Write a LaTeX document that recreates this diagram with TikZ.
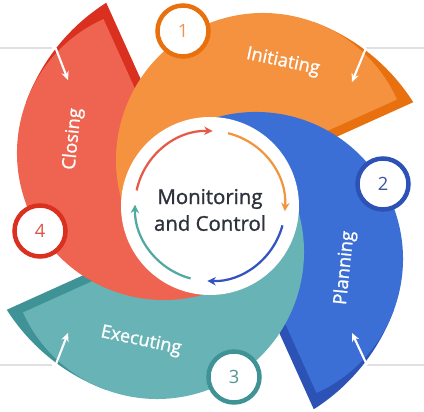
\documentclass[tikz,border=0pt]{standalone}
\usepackage{fontspec}
\setmainfont{Open Sans}
\newfontfamily\medfont{Open Sans}[FakeBold=1.2]
\usetikzlibrary{arrows.meta}

\definecolor{orangeL}{RGB}{244,146,63}
\definecolor{orangeD}{RGB}{232,112,14}
\definecolor{orangeT}{RGB}{238,150,80}
\definecolor{blueL}{RGB}{59,111,214}
\definecolor{blueD}{RGB}{44,82,181}
\definecolor{blueT}{RGB}{58,85,168}
\definecolor{tealL}{RGB}{103,179,181}
\definecolor{tealD}{RGB}{63,147,150}
\definecolor{tealT}{RGB}{80,150,146}
\definecolor{redL}{RGB}{238,100,80}
\definecolor{redD}{RGB}{217,48,31}
\definecolor{redT}{RGB}{217,84,74}
\definecolor{redA}{RGB}{230,90,72}
\definecolor{orangeA}{RGB}{240,150,62}
\definecolor{blueA}{RGB}{51,84,192}
\definecolor{tealA}{RGB}{82,169,160}
\definecolor{txt}{RGB}{45,50,60}

\begin{document}
\begin{tikzpicture}[x=0.025cm,y=0.025cm,
    phase/.style={text=white,font=\medfont\fontsize{13}{15}\selectfont},
    ring/.style={circle,draw=#1,line width=3.2pt,fill=white,minimum size=1.275cm,inner sep=0pt,font=\fontsize{13}{15}\selectfont},
    pointer/.style={white,line width=1.5pt,-{Stealth[length=6pt,width=5.5pt]}},
    guide/.style={black!12,line width=1.2pt},
    turn/.style={line width=1.6pt,-{Stealth[length=6pt,width=6pt]}}]

    \useasboundingbox (-210,-206) rectangle (214,206);

    %Closing (tail part)
    \begin{scope}[rotate=90]
    \coordinate (A) at (53,46);
    \fill[redD] (A) -- ++(70:147) arc[start angle=70,end angle=32.4,radius=199] -- ++(204.3:170) -- cycle;
    \fill[redL] (A) -- ++(24.3:147) arc[start angle=24.3,end angle=204.3,radius=147] -- cycle;
    \end{scope}

    %Initiating
    \coordinate (B) at (53,46);
    \fill[orangeD] (B) -- ++(70:147) arc[start angle=70,end angle=32.4,radius=199] -- ++(204.3:170) -- cycle;
    \fill[orangeL] (B) -- ++(24.3:147) arc[start angle=24.3,end angle=204.3,radius=147] -- cycle;

    %Planning
    \begin{scope}[rotate=-90]
    \coordinate (C) at (53,46);
    \fill[blueD] (C) -- ++(70:147) arc[start angle=70,end angle=32.4,radius=199] -- ++(204.3:170) -- cycle;
    \fill[blueL] (C) -- ++(24.3:147) arc[start angle=24.3,end angle=204.3,radius=147] -- cycle;
    \end{scope}

    %Executing
    \begin{scope}[rotate=180]
    \coordinate (D) at (53,46);
    \fill[tealD] (D) -- ++(70:147) arc[start angle=70,end angle=32.4,radius=199] -- ++(204.3:170) -- cycle;
    \fill[tealL] (D) -- ++(24.3:147) arc[start angle=24.3,end angle=204.3,radius=147] -- cycle;
    \end{scope}

    %Closing (head over the teal tail)
    \begin{scope}
    \clip (-210,0) rectangle (0,-206);
    \begin{scope}[rotate=90]
    \fill[redL] (53,46) -- ++(24.3:147) arc[start angle=24.3,end angle=204.3,radius=147] -- cycle;
    \end{scope}
    \end{scope}

    %centre
    \fill[white] (0,0) circle (89);
    \draw[turn,redA] (168:75) arc[start angle=168,end angle=88,radius=75];
    \draw[turn,orangeA] (76:75) arc[start angle=76,end angle=-4,radius=75];
    \draw[turn,blueA] (-15:75) arc[start angle=-15,end angle=-92,radius=75];
    \draw[turn,tealA] (-105:75) arc[start angle=-105,end angle=-181,radius=75];
    \node[align=center,text=txt,font=\medfont\fontsize{14.5}{19}\selectfont] (mc) at (0,-4) {Monitoring\\and Control};

    %labels
    \node[phase,rotate=-12] (t1) at (73,144) {Initiating};
    \node[phase,rotate=84] (t2) at (135,-62) {Planning};
    \node[phase,rotate=-12] (t3) at (-69,-135) {Executing};
    \node[phase,rotate=84] (t4) at (-137,67) {Closing};

    %numbers
    \node[ring=orangeD,text=orangeT] (n1) at (-27,175) {1};
    \node[ring=blueD,text=blueT] (n2) at (173,22) {2};
    \node[ring=tealD,text=tealT] (n3) at (24,-171) {3};
    \node[ring=redD,text=redT] (n4) at (-170,-25) {4};

    %pointers
    \coordinate (E1) at (-210,158);
    \coordinate (F1) at (-158,158);
    \coordinate (G1) at (-142,126);
    \draw[guide] (E1) -- (F1);
    \draw[pointer] (F1) -- ++(4,-1) -- (G1);

    \coordinate (E2) at (214,158);
    \coordinate (F2) at (156,158);
    \coordinate (G2) at (142,124);
    \draw[guide] (E2) -- (F2);
    \draw[pointer] (F2) -- (G2);

    \coordinate (E3) at (-210,-159);
    \coordinate (F3) at (-158,-159);
    \coordinate (G3) at (-142,-127);
    \draw[guide] (E3) -- (F3);
    \draw[pointer] (F3) -- ++(4,1) -- (G3);

    \coordinate (E4) at (214,-159);
    \coordinate (F4) at (157,-159);
    \coordinate (G4) at (142,-127);
    \draw[guide] (E4) -- (F4);
    \draw[pointer] (F4) -- (G4);

\end{tikzpicture}
\end{document}
